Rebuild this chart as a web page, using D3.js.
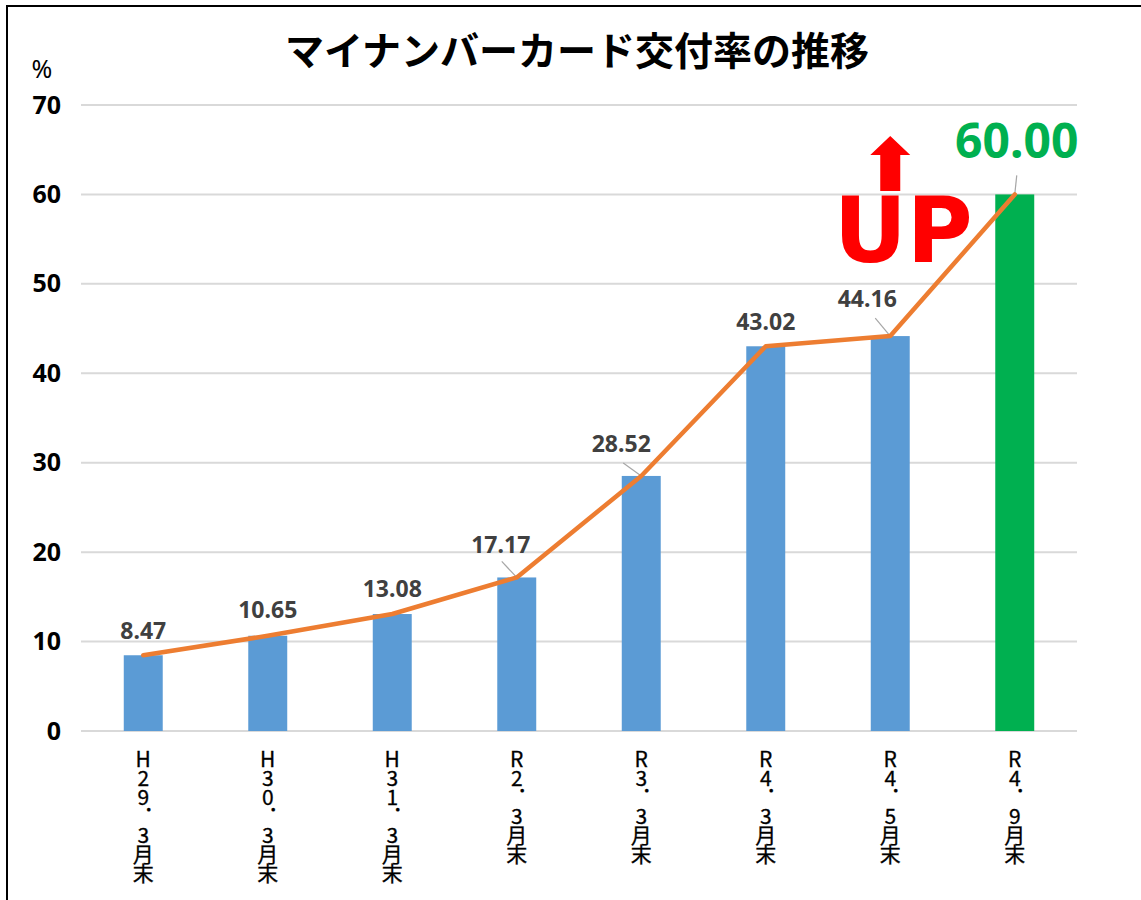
<!DOCTYPE html>
<html>
<head>
<meta charset="utf-8">
<script src="https://cdn.jsdelivr.net/npm/d3@7"></script>
<style>
  body { margin: 0; background: #fff; }
  svg { display: block; }
</style>
</head>
<body>
<div id="chart"></div>
<script>
// Data
var periods = ["H29．3月末", "H30．3月末", "H31．3月末", "R2．3月末", "R3．3月末", "R4．3月末", "R4．5月末", "R4．9月末"];
var rates = [8.47, 10.65, 13.08, 17.17, 28.52, 43.02, 44.16, 60.00];
var yTicks = [0, 10, 20, 30, 40, 50, 60, 70];
var titleText = "マイナンバーカード交付率の推移";

// label placement relative to each point: [dx, dy, leader dx, leader dy] (leader null = none)
var labelOffsets = [
    [0, -25, null, null],
    [0, -26, null, null],
    [0, -25, null, null],
    [-16, -33, -15, -16],
    [-20, -32, -18, -13],
    [0, -25, null, null],
    [-23, -37, -15, -18],
    [2, -54, 2, -19]
];

var width = 1141, height = 900;
var margin = {top: 105, right: 64, bottom: 169, left: 81};

var svg = d3.select("#chart").append("svg")
    .attr("width", width)
    .attr("height", height);

// frame
svg.append("rect")
    .attr("x", 7).attr("y", 6)
    .attr("width", 1200).attr("height", 1000)
    .style("fill", "none")
    .style("stroke", "#000")
    .style("stroke-width", 2);

var x = d3.scaleBand()
    .domain(periods)
    .range([margin.left, width - margin.right])
    .paddingInner(0.687)
    .paddingOuter(0.3435);

var y = d3.scaleLinear()
    .domain([0, 70])
    .range([height - margin.bottom, margin.top]);

var cx = function (d) { return x(d) + x.bandwidth() / 2; };

// title
svg.append("text")
    .attr("x", 577)
    .attr("y", 65)
    .attr("text-anchor", "middle")
    .style("font-family", "'Noto Sans CJK JP', sans-serif")
    .style("font-weight", "bold")
    .style("font-size", "39px")
    .style("fill", "#000")
    .text(titleText);

// gridlines
svg.append("g")
    .selectAll("line")
    .data(yTicks)
    .enter().append("line")
    .attr("x1", margin.left)
    .attr("x2", width - margin.right)
    .attr("y1", function (d) { return y(d); })
    .attr("y2", function (d) { return y(d); })
    .style("stroke", "#d9d9d9")
    .style("stroke-width", 2);

// y axis labels
var yAxis = d3.axisLeft(y).tickValues(yTicks).tickSize(0).tickPadding(0);
var gy = svg.append("g")
    .attr("transform", "translate(61,0)")
    .call(yAxis);
gy.select(".domain").remove();
gy.selectAll("text")
    .style("font-family", "'Noto Sans', sans-serif")
    .style("font-weight", "bold")
    .style("font-size", "25px")
    .style("fill", "#000");

svg.append("text")
    .attr("x", 42)
    .attr("y", 78)
    .attr("text-anchor", "middle")
    .style("font-family", "'Noto Sans', sans-serif")
    .style("font-size", "25px")
    .style("fill", "#000")
    .text("%");

// bars
svg.append("g")
    .selectAll("rect")
    .data(rates)
    .enter().append("rect")
    .attr("x", function (d, i) { return x(periods[i]); })
    .attr("width", x.bandwidth())
    .attr("y", function (d) { return y(d); })
    .attr("height", function (d) { return y(0) - y(d); })
    .style("fill", function (d, i) { return i === rates.length - 1 ? "#00b050" : "#5b9bd5"; });

// leader lines
svg.append("g")
    .selectAll("line")
    .data(rates.map(function (d, i) { return {v: d, i: i, o: labelOffsets[i]}; })
        .filter(function (d) { return d.o[2] !== null; }))
    .enter().append("line")
    .attr("x1", function (d) { return cx(periods[d.i]) + d.o[2]; })
    .attr("y1", function (d) { return y(d.v) + d.o[3]; })
    .attr("x2", function (d) { return cx(periods[d.i]); })
    .attr("y2", function (d) { return y(d.v); })
    .style("stroke", "#a6a6a6")
    .style("stroke-width", 1.2);

// trend line
var line = d3.line()
    .x(function (d, i) { return cx(periods[i]); })
    .y(function (d) { return y(d); });

svg.append("path")
    .datum(rates)
    .attr("d", line)
    .style("fill", "none")
    .style("stroke", "#ed7d31")
    .style("stroke-width", 4.5)
    .style("stroke-linejoin", "round")
    .style("stroke-linecap", "round");

// data labels
svg.append("g")
    .selectAll("text")
    .data(rates)
    .enter().append("text")
    .attr("x", function (d, i) { return cx(periods[i]) + labelOffsets[i][0]; })
    .attr("y", function (d, i) { return y(d) + labelOffsets[i][1]; })
    .attr("dy", "0.36em")
    .attr("text-anchor", "middle")
    .style("font-family", "'Noto Sans', sans-serif")
    .style("font-weight", "bold")
    .style("font-size", function (d, i) { return i === rates.length - 1 ? "48px" : "23px"; })
    .style("fill", function (d, i) { return i === rates.length - 1 ? "#00b050" : "#404040"; })
    .text(function (d) { return d.toFixed(2); });

// vertical x labels
svg.append("g")
    .selectAll("text")
    .data(periods)
    .enter().append("text")
    .attr("x", function (d) { return cx(d); })
    .attr("y", 749)
    .style("writing-mode", "vertical-rl")
    .style("text-orientation", "upright")
    .style("letter-spacing", "-2px")
    .style("font-family", "'Noto Sans CJK JP', sans-serif")
    .style("font-size", "21px")
    .style("fill", "#000")
    .style("stroke", "#000")
    .style("stroke-width", 0.3)
    .text(function (d) { return d; });

// UP annotation
var upX = cx(periods[6]);
svg.append("text")
    .attr("x", upX + 13)
    .attr("y", 262)
    .attr("text-anchor", "middle")
    .style("font-family", "'DejaVu Sans', sans-serif")
    .style("font-weight", "bold")
    .style("font-size", "90px")
    .style("fill", "#ff0000")
    .text("UP");

svg.append("path")
    .attr("d", "M" + (upX - 10) + ",191 V155 H" + (upX - 20) + " L" + upX + ",136 L" + (upX + 20) + ",155 H" + (upX + 10) + " V191 Z")
    .style("fill", "#ff0000");
</script>
</body>
</html>
